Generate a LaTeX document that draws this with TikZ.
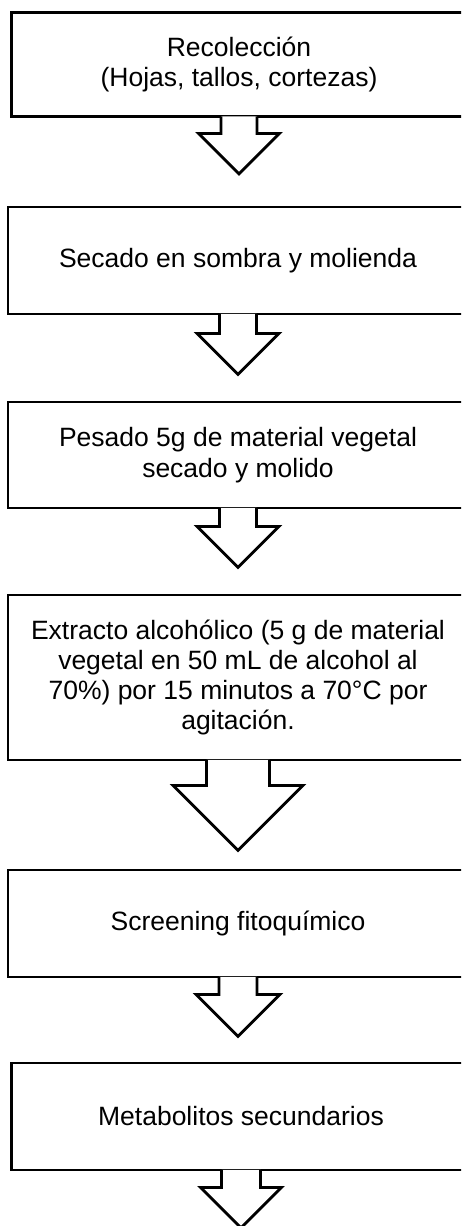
\documentclass[tikz,border=0pt]{standalone}
\usepackage{fontspec}
\setmainfont{Liberation Sans}
\usetikzlibrary{calc}
\tikzset{
  stepbox/.style={draw=black, line width=2.8pt, fill=white, inner sep=0pt,
    align=center, font=\fontsize{26.5}{30.3}\selectfont},
  blockarrow/.style={draw=black, fill=white, line width=2.8pt, miter limit=10}
}
% #1 node, #2 stem half width, #3 stem length, #4 head half width
\newcommand\flowarrow[4]{%
  \draw[blockarrow] ($(#1.south)+(-#2,-1.5)$) -- ++(0,#3+1.5) -- ++(-#4+#2,0)
    -- ++(#4,#4) -- ++(#4,-#4) -- ++(-#4+#2,0) -- ++(0,-#3-1.5);}
\begin{document}
\begin{tikzpicture}[x=1pt,y=-1pt]
\useasboundingbox (0,0) rectangle (461,1226);
\clip (0,0) rectangle (461,1226);
\node[stepbox, minimum width=455pt, minimum height=104pt] (b1) at (239,64.5)
  {Recolección\\(Hojas, tallos, cortezas)};
\node[stepbox, minimum width=460pt, minimum height=107pt] (b2) at (238,260.5)
  {Secado en sombra y molienda};
\node[stepbox, minimum width=460pt, minimum height=106pt] (b3) at (238,455)
  {Pesado 5g de material vegetal\\secado y molido};
\node[stepbox, minimum width=460pt, minimum height=165pt] (b4) at (238,677.5)
  {Extracto alcohólico (5 g de material\\vegetal en 50 mL de alcohol al\\70\%) por 15 minutos a 70°C por\\agitación.};
\node[stepbox, minimum width=460pt, minimum height=107pt] (b5) at (238,923.5)
  {Screening fitoquímico};
\node[stepbox, minimum width=459pt, minimum height=107pt] (b6) at (241,1116.5)
  {Metabolitos secundarios};
\flowarrow{b1}{18}{15.5}{40.5}
\flowarrow{b2}{18.5}{18}{41}
\flowarrow{b3}{18.5}{17}{41}
\flowarrow{b4}{31.5}{24}{65}
\flowarrow{b5}{19}{16}{42}
\flowarrow{b6}{19.5}{16}{40.5}
\end{tikzpicture}
\end{document}
